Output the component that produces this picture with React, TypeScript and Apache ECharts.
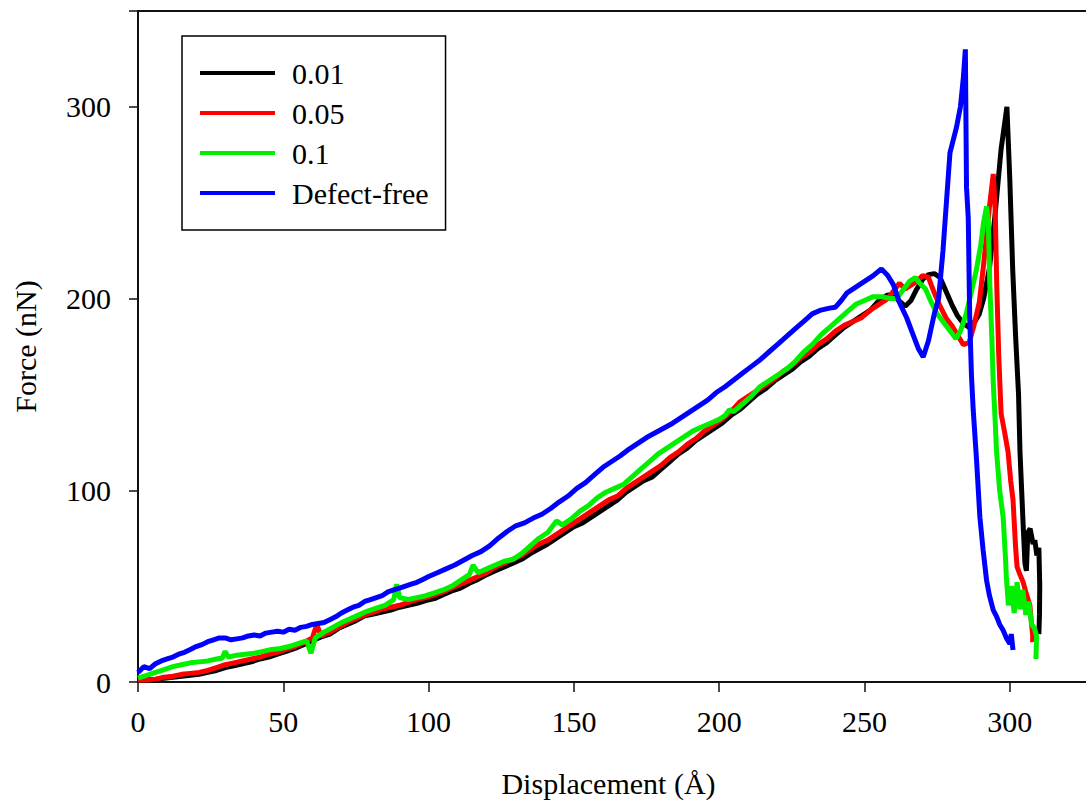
import React, { useEffect, useRef } from "react";
import * as echarts from "echarts";

const seriesNames = ["0.01", "0.05", "0.1", "Defect-free"];
const seriesColors = ["#000000", "#ff0000", "#00f000", "#0000ff"];
const xTicks = [0, 50, 100, 150, 200, 250, 300];
const yTicks = [0, 100, 200, 300];

const data001: number[][] = [
  [0, 1], [3, 1.5], [6, 1], [9, 2], [12, 2.5], [15, 3], [18, 3.5], [21, 4], [24, 5], [27, 6],
  [30, 7.5], [33, 8.5], [36, 9.5], [39, 10.5], [42, 12], [45, 13], [48, 14.5], [51, 16], [54, 17.5], [57, 19.5],
  [60, 21.5], [63, 23.5], [66, 25], [69, 28], [72, 30], [75, 32], [78, 34.5], [81, 35.5], [84, 36.5], [87, 37.5],
  [90, 39], [93, 40], [96, 41], [99, 42.5], [102, 43.5], [105, 45.5], [108, 47.5], [111, 49], [114, 51.5], [117, 53.5],
  [120, 56], [123, 58], [126, 60], [129, 62], [132, 64], [135, 67], [138, 69.5], [141, 72], [144, 75], [147, 78],
  [150, 81], [153, 83], [156, 86], [159, 89], [162, 92], [165, 95], [168, 99], [171, 102], [174, 105], [177, 107],
  [180, 111], [183, 115], [186, 119], [189, 122], [192, 126], [195, 129], [198, 132], [201, 135], [204, 139], [207, 142],
  [210, 146], [213, 150], [216, 153], [219, 157], [222, 160], [225, 163], [228, 167], [231, 170], [234, 174], [237, 177],
  [240, 181], [243, 185], [246, 188], [249, 191], [252, 194], [255, 199], [258, 202], [261, 200], [264, 196], [266, 199],
  [268, 205], [270, 210], [272, 212.5], [274, 213], [276, 211], [278, 204], [280, 197], [282, 191], [284, 187], [286, 185],
  [288, 188], [289.5, 192], [291, 200], [293, 216], [295, 245], [297, 278], [299, 300], [300, 262], [301, 215], [302, 180],
  [303, 150], [303.5, 120], [304.5, 85], [305.2, 62], [305.7, 58], [306.2, 78], [307, 80], [308, 72], [308.6, 74], [309.3, 66],
  [310, 70], [310.3, 50], [310.2, 35], [310, 25],
];

const data005: number[][] = [
  [0, 1], [3, 1], [6, 1.5], [9, 2.5], [12, 3], [15, 4], [18, 4.5], [21, 5], [24, 6], [27, 7.5],
  [30, 9], [33, 10], [36, 11], [39, 12], [42, 13], [45, 14.5], [48, 15.5], [51, 17], [54, 18.5], [57, 20.5],
  [60, 23], [61.5, 30], [63, 24], [66, 26], [69, 28.5], [72, 31], [75, 33], [78, 35], [81, 36.5], [84, 38],
  [87, 39], [90, 40], [93, 41.5], [96, 43], [99, 44], [102, 45.5], [105, 47], [108, 49], [111, 51], [114, 53],
  [117, 55], [120, 57], [123, 60], [126, 62], [129, 64], [132, 66], [135, 69], [138, 72], [141, 74], [144, 77],
  [147, 80], [150, 83], [153, 86], [156, 89], [159, 92], [162, 95], [165, 97], [168, 101], [171, 104], [174, 107],
  [177, 110], [180, 113], [183, 117], [186, 120], [189, 124], [192, 127], [195, 131], [198, 134], [201, 137], [204, 141],
  [207, 146], [210, 149], [213, 152], [216, 155], [219, 158], [222, 162], [225, 165], [228, 169], [231, 172], [234, 176],
  [237, 179], [240, 183], [243, 186], [246, 188], [249, 190], [252, 194], [255, 197], [258, 200], [260, 204], [262, 208],
  [264, 205], [266, 207], [268, 209], [270, 212], [272, 211], [274, 203], [276, 196], [278, 190], [280, 186], [282, 181],
  [284, 176], [286, 177], [287.5, 185], [289.5, 198], [291, 218], [293, 248], [294.3, 265], [295, 245], [295.5, 207], [296.2, 170],
  [297, 140], [298, 132], [299.4, 120], [300.3, 105], [301.1, 95], [302, 70], [302.5, 60], [303.5, 56], [304.6, 52], [305.5, 47],
  [306.9, 40], [307.5, 30], [308, 22], [307, 22],
];

const data01: number[][] = [
  [0, 2], [3, 3.5], [6, 5], [9, 6.5], [12, 8], [15, 9], [18, 10], [21, 10.5], [24, 11], [27, 12],
  [29, 12.5], [30, 16], [31, 13], [34, 14], [37, 14.5], [40, 15], [43, 16], [46, 17], [49, 17.5], [52, 18.5],
  [55, 20], [58, 21.5], [59.5, 15], [61, 23], [64, 26], [67, 28.5], [70, 31], [73, 33], [76, 35], [79, 37],
  [82, 38.5], [85, 40], [88, 43], [89, 51], [90, 44], [93, 43], [96, 44], [99, 45], [102, 46.5], [105, 48],
  [108, 50], [111, 53], [114, 56], [115.3, 61], [117, 57], [120, 59], [123, 61], [126, 63], [129, 64], [132, 67],
  [135, 71], [138, 75], [141, 78], [144, 84], [146, 82], [149, 85], [152, 89], [155, 92], [158, 96], [161, 99],
  [164, 101], [167, 103], [170, 107], [173, 111], [176, 115], [179, 119], [182, 122], [185, 125], [188, 128], [191, 131],
  [194, 133], [197, 135], [200, 137], [202, 139], [203.5, 142], [205, 141], [208, 145], [211, 149], [214, 154], [217, 157],
  [220, 160], [223, 163], [226, 167], [229, 172], [232, 176], [235, 181], [238, 185], [241, 189], [244, 193], [247, 197],
  [250, 199], [253, 201], [256, 201], [259, 200], [261, 200], [263, 204], [265.5, 209], [267.5, 211], [269, 208], [271, 205],
  [273, 198], [275, 192], [277, 188], [279, 184], [281.5, 179], [283, 183], [285, 192], [287, 205], [288.5, 215], [290, 228],
  [291, 240], [292, 248], [292.6, 240], [293.1, 208], [293.8, 180], [294.3, 156], [295, 135], [295.4, 121], [296.5, 100], [297.7, 86],
  [298.5, 65], [298.8, 55], [299.5, 40], [300.5, 50], [301.5, 36], [302.5, 52], [303.5, 38], [304.5, 48], [305.5, 35], [306.5, 42],
  [307.5, 30], [308.5, 28], [309.2, 24], [309, 12],
];

const dataFree: number[][] = [
  [0, 5], [2, 8], [4, 7], [6, 9.5], [8, 11], [10, 12], [12, 13], [14, 14.5], [16, 15.5], [18, 17],
  [20, 18.5], [22, 19.5], [24, 21], [26, 22], [28, 23], [30, 23], [32, 22], [34, 22.5], [36, 23], [38, 24],
  [40, 24.5], [42, 24], [44, 25.5], [46, 26], [48, 26.5], [50, 26], [52, 27.5], [54, 27], [56, 28.5], [58, 29],
  [60, 30], [62, 30.5], [64, 31], [66, 32.5], [68, 34], [70, 36], [72, 37.5], [74, 39], [76, 40], [78, 42],
  [80, 43], [82, 44], [84, 45], [86, 47], [88, 48], [90, 49], [92, 50], [94, 51], [96, 52], [98, 53.5],
  [100, 55], [103, 57], [106, 59], [109, 61], [112, 63.5], [115, 66], [118, 68], [121, 71], [124, 75], [127, 78.5],
  [130, 81.5], [133, 83], [136, 85.5], [139, 87.5], [142, 90.5], [145, 94], [148, 97], [151, 101], [154, 104], [157, 108],
  [160, 112], [163, 115], [166, 118], [169, 121.5], [172, 124.5], [175, 127.5], [178, 130], [181, 132.5], [184, 135], [187, 138],
  [190, 141], [193, 144], [196, 147], [199, 151], [202, 154], [205, 157.5], [208, 161], [211, 164.5], [214, 168], [217, 172],
  [220, 176], [223, 180], [226, 184], [229, 188], [232, 192], [235, 194], [238, 195], [240, 195.5], [242, 199], [244, 203],
  [247, 206], [250, 209], [253, 212], [255.8, 215.5], [258, 212], [260, 207], [262, 198], [264.5, 190], [266.5, 182], [268.5, 174],
  [270.2, 169.5], [272, 178], [274, 192], [275.5, 200], [277, 225], [279.4, 276], [281.6, 289], [283, 300], [284, 315], [284.7, 330],
  [285.1, 258], [285.7, 242], [286.2, 190], [286.8, 160], [287.4, 142], [288.5, 117], [289.7, 86], [290.8, 69], [292, 53], [293, 45],
  [294.3, 37.5], [295.5, 34], [296.5, 30], [297.7, 27], [298.8, 23], [300, 20], [300.5, 25], [301.1, 16.7],
];

const allData = [data001, data005, data01, dataFree];

const FONT = "'Liberation Serif', 'Times New Roman', serif";

export default function App() {
  const ref = useRef<HTMLDivElement>(null);
  useEffect(() => {
    if (!ref.current) return;
    const chart = echarts.init(ref.current, undefined, { renderer: "svg" });
    chart.setOption({
      animation: false,
      backgroundColor: "#ffffff",
      textStyle: { fontFamily: FONT, color: "#000" },
      grid: {
        left: 138,
        width: 959,
        top: 11,
        height: 671,
        containLabel: false,
        outerBoundsMode: "none",
        show: true,
        borderColor: "#111",
        borderWidth: 2,
        backgroundColor: "transparent",
      },
      legend: {
        left: 182,
        top: 36,
        orient: "vertical",
        data: seriesNames,
        icon: "rect",
        itemWidth: 75,
        itemHeight: 4,
        itemGap: 10,
        padding: [22, 17, 22, 18],
        borderColor: "#000",
        borderWidth: 1.5,
        selectedMode: false,
        textStyle: { fontFamily: FONT, fontSize: 30, color: "#000", padding: [0, 0, 0, 12] },
      },
      xAxis: {
        type: "value",
        min: 0,
        max: 330,
        interval: 50,
        name: "Displacement (Å)",
        nameLocation: "middle",
        nameGap: 86,
        nameTextStyle: { fontFamily: FONT, fontSize: 30, color: "#000", padding: [0, 18, 0, 0] },
        axisLine: { show: true, onZero: false, lineStyle: { color: "#111", width: 2 } },
        axisTick: { show: true, inside: false, length: 10, lineStyle: { color: "#111", width: 1.5 } },
        axisLabel: {
          fontFamily: FONT,
          fontSize: 30,
          color: "#000",
          margin: 24,
          formatter: (v: number) => (xTicks.includes(v) ? String(v) : ""),
        },
        splitLine: { show: false },
      },
      yAxis: {
        type: "value",
        min: 0,
        max: 350,
        interval: 100,
        name: "Force (nN)",
        nameLocation: "middle",
        nameGap: 98,
        nameTextStyle: { fontFamily: FONT, fontSize: 30, color: "#000" },
        axisLine: { show: true, lineStyle: { color: "#111", width: 2 } },
        axisTick: { show: true, inside: false, length: 9, lineStyle: { color: "#111", width: 1.5 } },
        axisLabel: {
          fontFamily: FONT,
          fontSize: 30,
          color: "#000",
          margin: 27,
          formatter: (v: number) => (yTicks.includes(v) ? String(v) : ""),
        },
        splitLine: { show: false },
      },
      series: seriesNames.map((name, i) => ({
        name,
        type: "line",
        data: allData[i],
        symbol: "none",
        showSymbol: false,
        color: seriesColors[i],
        lineStyle: { color: seriesColors[i], width: 5 },
        z: 2 + i,
      })),
    });
    return () => chart.dispose();
  }, []);
  return (
    <div
      ref={ref}
      style={{ position: "fixed", left: 0, top: 0, width: 1086, height: 803, background: "#fff" }}
    />
  );
}
